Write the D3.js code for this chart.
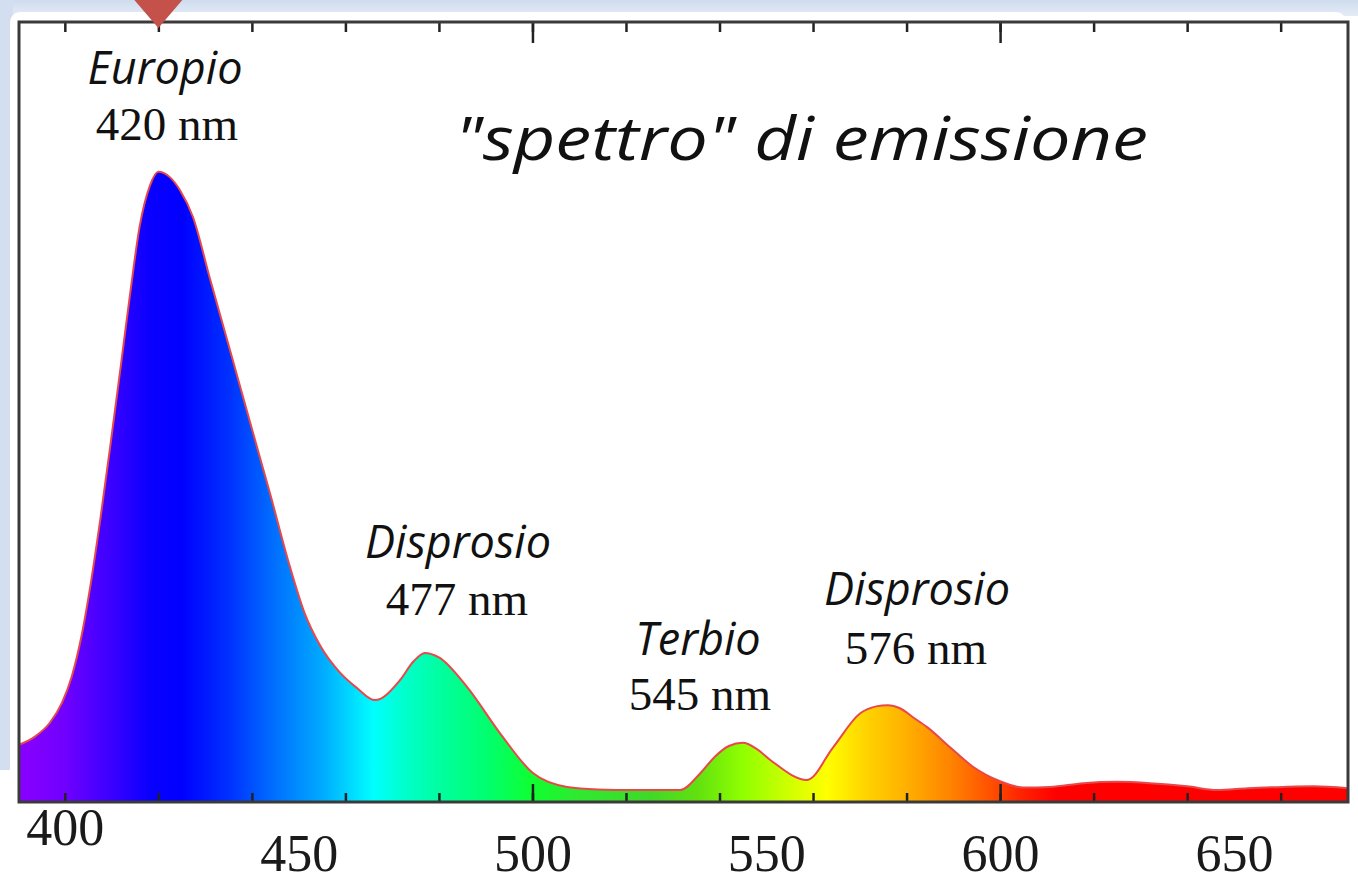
<!DOCTYPE html>
<html>
<head>
<meta charset="utf-8">
<script src="https://cdn.jsdelivr.net/npm/d3@7"></script>
<style>
  html, body { margin: 0; padding: 0; background: #ffffff; }
  svg { display: block; }
</style>
</head>
<body>
<svg id="chart" width="1358" height="884"></svg>
<script>
// Emission spectrum: wavelength (nm) and relative intensity
const wavelength = [390.2, 393.6, 396.8, 399.4, 401.5, 403.6, 405.6, 407.6, 409.8, 412.0,
  414.0, 416.0, 418.2, 420, 422.5, 424.6, 427.4, 431.0, 435.3, 439.6,
  443.9, 448.1, 451.3, 454.5, 458.8, 462.5, 466.3, 471.7, 474.5, 477,
  480, 486.0, 493.0, 500.1, 507.4, 514, 521.5, 531.6, 535.8, 539,
  542, 545, 548, 551, 558.7, 564.3, 570.1, 573.5, 576, 578.6,
  581.5, 584.4, 589.3, 594.2, 600.0, 605, 610.7, 617.8, 625, 632.1,
  640, 646.4, 653, 660.5, 667, 674.4];
const intensity = [9.1, 10.4, 12.6, 15.8, 20.0, 26.5, 35.0, 45.0, 57.0, 69.5,
  81.0, 91.5, 98.0, 100.2, 99.3, 97.3, 93.0, 83.3, 71.9, 60.4,
  49.0, 37.5, 30.0, 25.0, 20.6, 18.1, 16.2, 19.4, 22.3, 23.7,
  23.0, 18.3, 11.0, 4.6, 2.4, 2.0, 1.9, 1.9, 4.5, 7.2,
  8.9, 9.4, 8.4, 6.6, 3.5, 8.7, 14.1, 15.2, 15.4, 14.9,
  13.4, 11.9, 8.7, 5.6, 3.3, 2.3, 2.4, 3.0, 3.2, 3.0,
  2.5, 1.9, 2.2, 2.4, 2.5, 2.2];

// Peak annotations
const peakElements = ["Europio", "Disprosio", "Terbio", "Disprosio"];
const peakNm = [420, 477, 545, 576];

// Axis ticks
const tickLabels = [400, 450, 500, 550, 600, 650];
const minorTicks = d3.range(400, 661, 20);
const majorTicks = [500, 600];

// Visible-spectrum colours used for the fill
const spectrumNm = [390, 400, 410, 418, 425, 435, 445, 455, 462, 466, 472, 480, 490, 500,
  510, 525, 535, 545, 555, 563, 572, 580, 590, 598, 605, 612, 675];
const spectrumColor = ["#8a00ff", "#7000ff", "#3a00ff", "#0a00ff", "#0000ff", "#0030ff",
  "#0070ff", "#00aaff", "#00e0ff", "#00ffff", "#00ffd0", "#00ffa0", "#00ff70", "#10ff30",
  "#30e830", "#40d828", "#60e010", "#90ff00", "#d0ff00", "#ffff00", "#ffd000", "#ffb000",
  "#ff8000", "#ff5000", "#ff2000", "#ff0000", "#ff0000"];

const titleText = "\"spettro\" di emissione";

const svg = d3.select("#chart");
const W = 1358, H = 884;
const plot = { left: 19, right: 1348, top: 22, bottom: 802 };

const x = d3.scaleLinear().domain([390.2, 674.4]).range([plot.left, plot.right]);
const y = d3.scaleLinear().domain([0, 124]).range([plot.bottom, plot.top]);

// Slide backdrop: pale blue edges and white panel
const defs = svg.append("defs");
const bgGrad = defs.append("linearGradient")
  .attr("id", "topBand").attr("x1", 0).attr("x2", 0).attr("y1", 0).attr("y2", 1);
bgGrad.append("stop").attr("offset", 0).attr("stop-color", "#cfdcee");
bgGrad.append("stop").attr("offset", 1).attr("stop-color", "#e4ecf6");
svg.append("rect").attr("x", 0).attr("y", 0).attr("width", W).attr("height", 16).attr("fill", "url(#topBand)");
svg.append("rect").attr("x", 0).attr("y", 0).attr("width", 13).attr("height", 770).attr("fill", "#d3def0");
svg.append("rect").attr("x", 10).attr("y", 12).attr("width", W - 22).attr("height", H).attr("rx", 10)
  .attr("fill", "#ffffff");

// Spectrum gradient along the wavelength axis
const spec = defs.append("linearGradient")
  .attr("id", "spectrum").attr("gradientUnits", "userSpaceOnUse")
  .attr("x1", x(spectrumNm[0])).attr("x2", x(spectrumNm[spectrumNm.length - 1]))
  .attr("y1", 0).attr("y2", 0);
const span = spectrumNm[spectrumNm.length - 1] - spectrumNm[0];
spectrumNm.forEach((nm, i) => {
  spec.append("stop").attr("offset", (nm - spectrumNm[0]) / span).attr("stop-color", spectrumColor[i]);
});

const data = wavelength.map((nm, i) => ({ nm, v: intensity[i] }));

const area = d3.area()
  .x(d => x(d.nm)).y0(y(0)).y1(d => y(d.v))
  .curve(d3.curveMonotoneX);
const line = d3.line()
  .x(d => x(d.nm)).y(d => y(d.v))
  .curve(d3.curveMonotoneX);

svg.append("path").datum(data).attr("d", area).attr("fill", "url(#spectrum)");
svg.append("path").datum(data).attr("d", line)
  .attr("fill", "none").attr("stroke", "#e8484a").attr("stroke-width", 2);

// Tick marks on top and bottom edges
const tickStyle = g => {
  g.select(".domain").remove();
  g.selectAll(".tick line").attr("stroke", "#222").attr("stroke-width", 2.5);
  g.selectAll(".tick text").remove();
};
svg.append("g").attr("transform", `translate(0,${plot.top})`)
  .call(d3.axisBottom(x).tickValues(minorTicks).tickSize(10).tickFormat(""))
  .call(tickStyle);
svg.append("g").attr("transform", `translate(0,${plot.top})`)
  .call(d3.axisBottom(x).tickValues(majorTicks).tickSize(21).tickFormat(""))
  .call(tickStyle);
svg.append("g").attr("transform", `translate(0,${plot.bottom})`)
  .call(d3.axisTop(x).tickValues(minorTicks).tickSize(9).tickFormat(""))
  .call(tickStyle);
svg.append("g").attr("transform", `translate(0,${plot.bottom})`)
  .call(d3.axisTop(x).tickValues(majorTicks).tickSize(18).tickFormat(""))
  .call(tickStyle);

// Frame
svg.append("rect")
  .attr("x", plot.left).attr("y", plot.top)
  .attr("width", plot.right - plot.left).attr("height", plot.bottom - plot.top)
  .attr("fill", "none").attr("stroke", "#3a3a3a").attr("stroke-width", 3);

// Wavelength labels
const labelAxis = svg.append("g").attr("transform", `translate(0,${plot.bottom})`)
  .call(d3.axisBottom(x).tickValues(tickLabels).tickSize(0).tickFormat(d3.format("d")));
labelAxis.select(".domain").remove();
labelAxis.selectAll(".tick text")
  .attr("font-family", "'Liberation Serif', 'Times New Roman', serif")
  .attr("font-size", 52)
  .attr("fill", "#1a1a1a")
  .attr("dy", null)
  .attr("y", d => d === 400 ? 43 : 69);

// Pointer arrow at the top of the slide
svg.append("path")
  .attr("d", `M${x(420) - 24},0 L${x(420) + 24},0 L${x(420)},28 Z`)
  .attr("fill", "#c4514a");

// Title
svg.append("text")
  .attr("x", 455).attr("y", 160)
  .attr("font-family", "'Open Sans', 'DejaVu Sans', sans-serif")
  .attr("font-style", "italic")
  .attr("font-size", 60)
  .attr("fill", "#111")
  .attr("textLength", 693)
  .attr("lengthAdjust", "spacingAndGlyphs")
  .text(titleText);

// Peak annotations: element name and wavelength
const nameY = [84, 558, 655, 605];
const nmY = [140, 615, 710, 664];
const nameX = [165, 458, 698, 917];
const nmX = [167, 457, 700, 916];
peakElements.forEach((name, i) => {
  svg.append("text")
    .attr("x", nameX[i]).attr("y", nameY[i])
    .attr("text-anchor", "middle")
    .attr("font-family", "'Open Sans', 'DejaVu Sans', sans-serif")
    .attr("font-style", "italic")
    .attr("font-size", 45)
    .attr("fill", "#111")
    .text(name);
  svg.append("text")
    .attr("x", nmX[i]).attr("y", nmY[i])
    .attr("text-anchor", "middle")
    .attr("font-family", "'Liberation Serif', 'Times New Roman', serif")
    .attr("font-size", 47)
    .attr("fill", "#111")
    .text(`${peakNm[i]} nm`);
});
</script>
</body>
</html>
